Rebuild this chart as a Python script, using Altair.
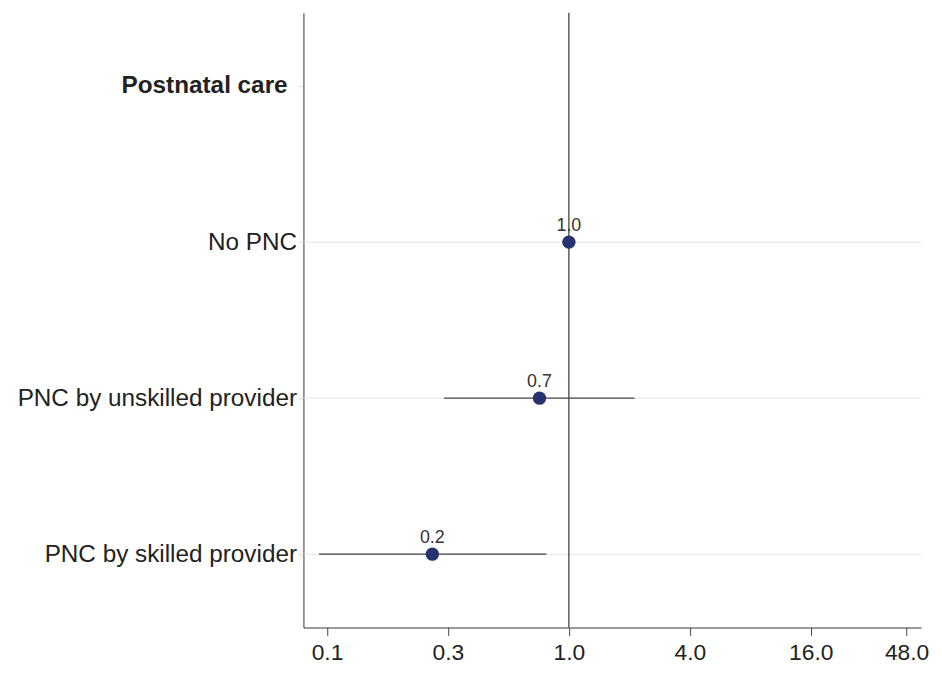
import altair as alt
import pandas as pd

categories = ["No PNC", "PNC by unskilled provider", "PNC by skilled provider"]
header = "Postnatal care"
estimates = [1.0, 0.714, 0.209]
ci_low = [1.0, 0.239, 0.057]
ci_high = [1.0, 2.12, 0.773]
x_tick_values = [0.0625, 0.25, 1, 4, 16, 48]
x_domain = [0.0477, 56.7]

y_order = [header] + categories

df = pd.DataFrame({"cat": categories, "est": estimates, "lo": ci_low, "hi": ci_high})
df_ci = df[df["lo"] != df["hi"]]
df_ref = pd.DataFrame({"x": [1.0]})
df_grid = pd.DataFrame({"cat": categories})
df_head = pd.DataFrame({"cat": [header]})

W, H = 623, 620
FONT = "Liberation Sans"

xscale = alt.Scale(type="log", domain=x_domain, nice=False)
yscale = alt.Scale(type="point", domain=y_order, padding=0.47)

x_axis = alt.Axis(values=x_tick_values, format=".1f", grid=False, domainColor="#333333",
                  tickColor="#444444", tickSize=8, labelFontSize=23, labelColor="#222222",
                  labelFont=FONT, labelPadding=6, title=None, labelFlush=False)
y_axis = alt.Axis(grid=False, domainColor="#333333", ticks=True, tickColor="#dddddd", tickSize=5,
                  labelFontSize=24.5, labelColor="#222222", labelFont=FONT, labelPadding=2,
                  labelExpr="datum.value == 'Postnatal care' ? '' : datum.value",
                  title=None, labelLimit=400)

grid = alt.Chart(df_grid).mark_rule(color="#e3e3e3", strokeWidth=1).encode(
    y=alt.Y("cat:N", scale=yscale, axis=y_axis, sort=y_order),
    x=alt.value(0), x2=alt.value(W),
)

head = alt.Chart(df_head).mark_text(align="right", fontSize=24.5, fontWeight="bold",
                                    color="#222222", font=FONT).encode(
    y=alt.Y("cat:N", scale=yscale, sort=y_order),
    x=alt.value(-16),
    text="cat:N",
)

ref = alt.Chart(df_ref).mark_rule(color="#333333", strokeWidth=1.2).encode(
    x=alt.X("x:Q", scale=xscale, axis=x_axis),
    y=alt.value(0), y2=alt.value(H),
)

ci = alt.Chart(df_ci).mark_rule(color="#444444", strokeWidth=1.3).encode(
    x=alt.X("lo:Q", scale=xscale), x2="hi:Q",
    y=alt.Y("cat:N", scale=yscale, sort=y_order),
)

pts = alt.Chart(df).mark_point(filled=True, size=180, color="#27336e", opacity=1).encode(
    x=alt.X("est:Q", scale=xscale),
    y=alt.Y("cat:N", scale=yscale, sort=y_order),
)

labels = alt.Chart(df).mark_text(dy=-16, fontSize=18, color="#333333", font=FONT).encode(
    x=alt.X("est:Q", scale=xscale),
    y=alt.Y("cat:N", scale=yscale, sort=y_order),
    text=alt.Text("est:Q", format=".1f"),
)

chart = alt.layer(grid, head, ref, ci, pts, labels).properties(
    width=W, height=H, padding={"left": 9, "top": 1, "right": 5, "bottom": 5},
    background="white",
).configure_view(stroke="transparent", strokeWidth=0)

chart.save("out.html", embed_options={"renderer": "svg", "actions": False})
